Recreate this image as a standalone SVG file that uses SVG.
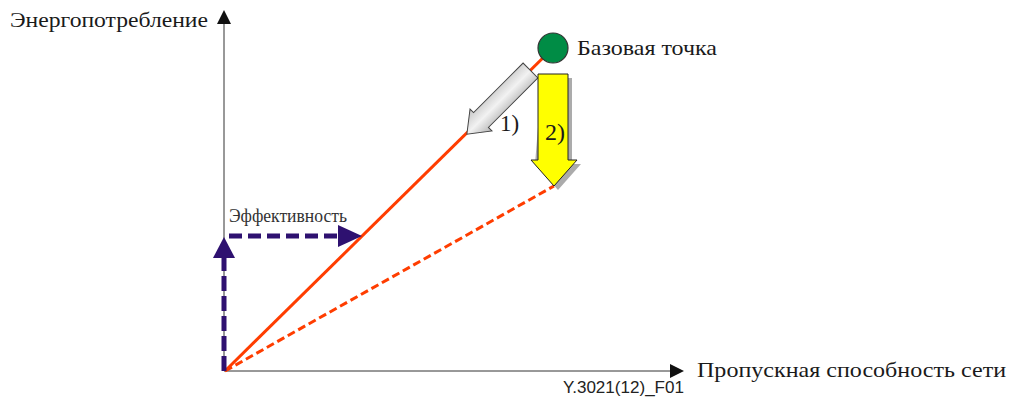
<svg xmlns="http://www.w3.org/2000/svg" width="1011" height="398" viewBox="0 0 1011 398">
<defs>
<style>
.t{font-family:"Liberation Serif","Times New Roman","DejaVu Serif",serif;fill:#1a1a1a}
.axis{stroke:#333;stroke-width:1;fill:none}
.pd{stroke:#2E1170;stroke-width:5;fill:none}
</style>
<linearGradient id="gg" x1="0" y1="0" x2="0" y2="1">
<stop offset="0" stop-color="#b4b4b4"/>
<stop offset="0.5" stop-color="#f2f2f2"/>
<stop offset="1" stop-color="#c4c4c4"/>
</linearGradient>
</defs>
<rect width="1011" height="398" fill="#fff"/>
<g id="axes">
<line class="axis" x1="224" y1="371" x2="224" y2="22"/>
<polygon points="224,10 217,24 231,24" fill="#111"/>
<line class="axis" x1="224" y1="371" x2="672" y2="371"/>
<polygon points="684,371 670,364 670,378" fill="#111"/>
<text class="t" x="10" y="27" font-size="22" textLength="198" lengthAdjust="spacingAndGlyphs">Энергопотребление</text>
<text class="t" x="697" y="377" font-size="22" textLength="309" lengthAdjust="spacingAndGlyphs">Пропускная способность сети</text>
<text x="563" y="393" font-family="Liberation Sans,Arial,sans-serif" font-size="16" fill="#222" textLength="121" lengthAdjust="spacingAndGlyphs">Y.3021(12)_F01</text>
</g>
<g id="connectors">
<line x1="225" y1="371" x2="553" y2="48" stroke="#FF3D00" stroke-width="3"/>
<line x1="225" y1="371" x2="554" y2="186" stroke="#FF3D00" stroke-width="3" stroke-dasharray="8 4"/>
<line class="pd" x1="224" y1="371" x2="224" y2="258" stroke-dasharray="15 5"/>
<polygon points="224,237 213,258 235,258" fill="#2E1170"/>
<line class="pd" x1="229" y1="236" x2="340" y2="236" stroke-dasharray="13 6"/>
<polygon points="362,236 338,225 338,247" fill="#2E1170"/>
</g>
<g id="efficiency">
<text class="t" x="229" y="222" font-size="19" style="fill:#333" textLength="118" lengthAdjust="spacingAndGlyphs">Эффективность</text>
</g>
<g id="arrow1">
<path transform="translate(530.5,70.5) rotate(135)" d="M0,-10.5 L70,-10.5 L70,-15.5 L90,0 L70,15.5 L70,10.5 L0,10.5 Z" fill="url(#gg)" stroke="#444" stroke-width="1"/>
<text class="t" x="500" y="131" font-size="23">1)</text>
</g>
<g id="arrow2">
<path d="M542,78 L572,78 L572,164 L581,164 L558,190 L535,164 Z" fill="#888" opacity="0.7"/>
<path d="M538,74 L568,74 L568,160 L577,160 L554,186 L531,160 L538,160 Z" fill="#FFFF00" stroke="#222" stroke-width="1"/>
<text class="t" x="545" y="140" font-size="24">2)</text>
</g>
<g id="base-point">
<circle cx="553" cy="48" r="15" fill="#008C45" stroke="#333" stroke-width="1.2"/>
<text class="t" x="577" y="55" font-size="22" textLength="140" lengthAdjust="spacingAndGlyphs">Базовая точка</text>
</g>
</svg>
